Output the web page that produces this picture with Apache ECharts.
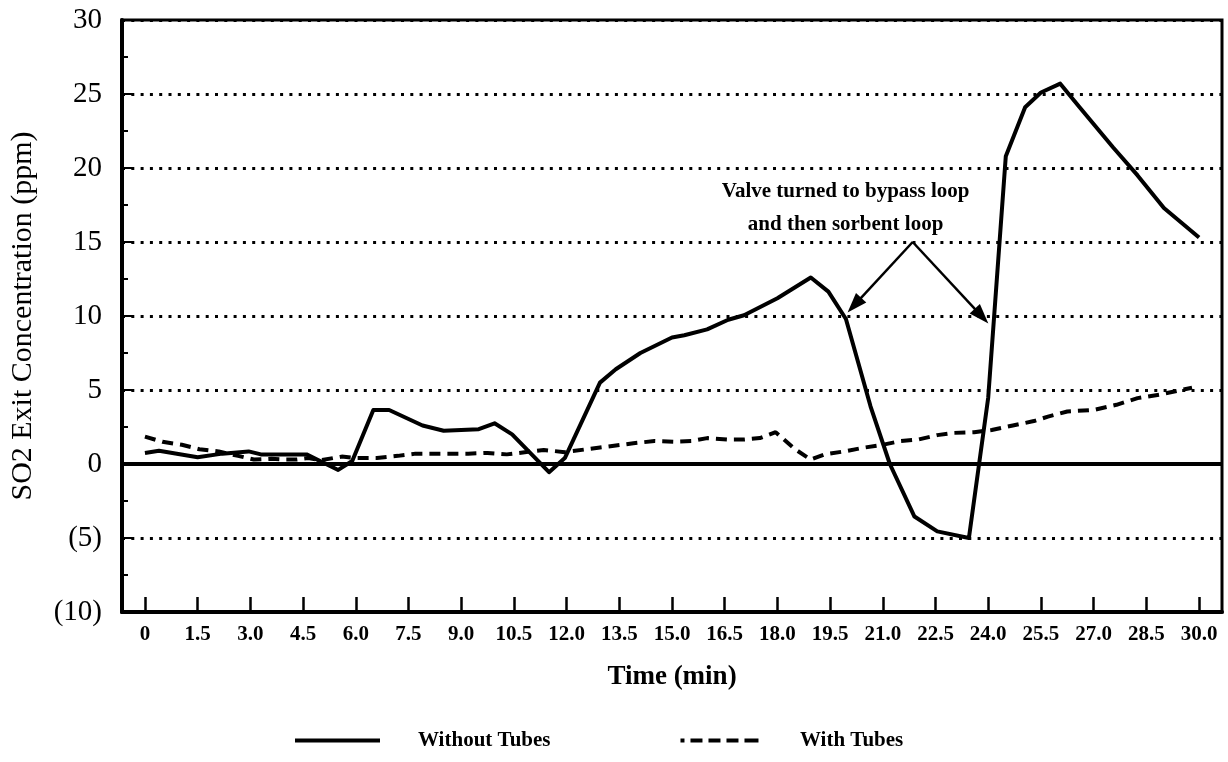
<!DOCTYPE html>
<html>
<head>
<meta charset="utf-8">
<script src="https://cdn.jsdelivr.net/npm/echarts@6/dist/echarts.min.js"></script>
<style>
  html, body { margin: 0; padding: 0; background: #fff; }
  #chart { width: 1228px; height: 762px; }
</style>
</head>
<body>
<div id="chart"></div>
<script>
// SO2 exit concentration (ppm) over time (min)
const timeWithout = [0, 0.4, 1.5, 2.2, 2.95, 3.3, 4.6, 5.5, 5.9, 6.5, 6.95, 7.9, 8.5, 9.5, 9.95,
  10.45, 11.5, 11.95, 12.95, 13.4, 14.1, 15.0, 15.35, 16.0, 16.6, 17.05, 18.0, 18.95, 19.45, 19.95,
  20.65, 21.2, 21.9, 22.55, 23.45, 24.0, 24.5, 25.05, 25.5, 26.05, 26.6, 27.55, 28.25, 29.0, 30.0];
const so2Without = [0.75, 0.9, 0.45, 0.7, 0.85, 0.65, 0.65, -0.4, 0.2, 3.65, 3.65, 2.6, 2.25, 2.35, 2.75,
  2.0, -0.55, 0.4, 5.5, 6.4, 7.5, 8.55, 8.7, 9.1, 9.75, 10.05, 11.2, 12.6, 11.65, 9.8,
  3.9, 0.0, -3.55, -4.55, -5.0, 4.5, 20.8, 24.1, 25.1, 25.7, 24.1, 21.4, 19.5, 17.3, 15.3];

const timeWith = [0, 0.5, 1.05, 1.55, 2.1, 2.65, 3.1, 3.6, 4.0, 4.3, 4.65, 5.0, 5.6, 6.0, 6.6,
  7.2, 7.7, 8.25, 9.2, 9.75, 10.3, 11.35, 11.95, 12.9, 13.9, 14.5, 15.05, 15.55, 16.0, 16.6,
  17.05, 17.5, 17.95, 18.5, 18.95, 19.35, 19.9, 20.45, 21.0, 21.5, 22.0, 22.55, 23.0, 23.6, 24.1,
  24.7, 25.3, 25.7, 26.25, 27.0, 27.65, 28.25, 28.9, 29.4, 29.8];
const so2With = [1.85, 1.5, 1.3, 1.0, 0.85, 0.55, 0.3, 0.35, 0.3, 0.3, 0.4, 0.25, 0.5, 0.4, 0.4,
  0.55, 0.7, 0.7, 0.7, 0.75, 0.65, 0.95, 0.8, 1.1, 1.4, 1.55, 1.5, 1.55, 1.75, 1.65,
  1.65, 1.75, 2.15, 1.0, 0.3, 0.65, 0.85, 1.1, 1.3, 1.55, 1.65, 1.95, 2.1, 2.15, 2.3,
  2.6, 2.9, 3.2, 3.55, 3.65, 4.0, 4.45, 4.7, 4.95, 5.15];

const xTickValues = [0, 1.5, 3, 4.5, 6, 7.5, 9, 10.5, 12, 13.5, 15, 16.5, 18, 19.5, 21, 22.5, 24, 25.5, 27, 28.5, 30];
const xTickLabels = ['0', '1.5', '3.0', '4.5', '6.0', '7.5', '9.0', '10.5', '12.0', '13.5', '15.0',
  '16.5', '18.0', '19.5', '21.0', '22.5', '24.0', '25.5', '27.0', '28.5', '30.0'];
const yTickValues = [-10, -5, 0, 5, 10, 15, 20, 25, 30];
const yTickLabels = ['(10)', '(5)', '0', '5', '10', '15', '20', '25', '30'];

const seriesNames = ['Without Tubes', 'With Tubes'];
const axisNames = ['Time (min)', 'SO2 Exit Concentration (ppm)'];

// Callout: text anchor and arrows pointing at the valve switch moments
// (arrow ends sit half a head short of the tip, since the head is centred on the end point)
const calloutText = ['Valve turned to bypass loop', 'and then sorbent loop'];
const calloutAnchor = [19.94, 17.3];
const arrowFrom = [21.85, 15.0];
const arrowTargets = [[20.19, 10.73], [23.81, 9.99]];

const SERIF = '"Liberation Serif", "Times New Roman", Times, serif';

function labelFor(values, labels, v) {
  for (let i = 0; i < values.length; i++) {
    if (Math.abs(values[i] - v) < 1e-6) return labels[i];
  }
  return '';
}

const chart = echarts.init(document.getElementById('chart'), null, { renderer: 'canvas' });

const option = {
  animation: false,
  backgroundColor: '#ffffff',
  grid: {
    left: 120, right: 6, top: 20, bottom: 150,
    show: true, borderColor: '#000', borderWidth: 3, backgroundColor: 'transparent'
  },
  legend: {
    left: 295, top: 730, padding: 0,
    itemWidth: 85, itemHeight: 4, itemGap: 130,
    itemStyle: { borderWidth: 0 },
    textStyle: { fontFamily: SERIF, fontWeight: 'bold', fontSize: 21, color: '#000', padding: [0, 0, 0, 33] },
    data: [
      { name: seriesNames[0], icon: 'rect' },
      { name: seriesNames[1], icon: 'path://M0,0h4v4h-4z M10,0h12v4h-12z M28,0h12v4h-12z M46,0h12v4h-12z M64,0h14v4h-14z' }
    ]
  },
  xAxis: {
    type: 'value',
    min: -0.653, max: 30.653,
    name: axisNames[0],
    nameLocation: 'middle',
    nameGap: 52,
    nameTextStyle: { fontFamily: SERIF, fontWeight: 'bold', fontSize: 27, color: '#000' },
    axisLine: { show: true, onZero: false, lineStyle: { color: '#000', width: 4 } },
    axisTick: { show: true, inside: true, length: 15, customValues: xTickValues, lineStyle: { color: '#000', width: 2.5 } },
    axisLabel: {
      customValues: xTickValues,
      formatter: v => labelFor(xTickValues, xTickLabels, v),
      fontFamily: SERIF, fontWeight: 'bold', fontSize: 21, color: '#000', margin: 12
    },
    splitLine: { show: false }
  },
  yAxis: {
    type: 'value',
    min: -10, max: 30, interval: 5,
    name: axisNames[1],
    nameLocation: 'middle',
    nameGap: 84,
    nameTextStyle: { fontFamily: SERIF, fontSize: 30, color: '#000' },
    axisLine: { show: true, onZero: false, lineStyle: { color: '#000', width: 4 } },
    axisTick: { show: true, inside: true, length: 10, lineStyle: { color: '#000', width: 2 } },
    minorTick: { show: true, splitNumber: 2, length: 6, lineStyle: { color: '#000', width: 2 } },
    axisLabel: {
      formatter: v => labelFor(yTickValues, yTickLabels, v),
      fontFamily: SERIF, fontSize: 29, color: '#000', margin: 20
    },
    splitLine: { show: true, lineStyle: { color: '#000', width: 3, type: [3, 6.3] } }
  },
  series: [
    {
      name: seriesNames[0],
      type: 'line',
      data: timeWithout.map((t, i) => [t, so2Without[i]]),
      symbol: 'none',
      color: '#000',
      lineStyle: { color: '#000', width: 4, type: 'solid', join: 'round' },
      z: 4,
      markLine: {
        silent: true,
        symbol: 'none',
        label: { show: false },
        lineStyle: { color: '#000', width: 4, type: 'solid' },
        data: [{ yAxis: 0 }]
      }
    },
    {
      name: seriesNames[1],
      type: 'line',
      data: timeWith.map((t, i) => [t, so2With[i]]),
      symbol: 'none',
      color: '#000',
      lineStyle: { color: '#000', width: 4, type: [11, 7] },
      z: 3,
      markLine: {
        silent: true,
        symbol: ['none', 'triangle'],
        symbolSize: [14, 20],
        label: { show: false },
        lineStyle: { color: '#000', width: 2.5, type: 'solid' },
        data: arrowTargets.map(p => [{ coord: arrowFrom }, { coord: p }])
      },
      markPoint: {
        silent: true,
        symbol: 'rect',
        symbolSize: 1,
        itemStyle: { color: 'rgba(0,0,0,0)' },
        label: {
          show: true,
          position: 'inside',
          formatter: calloutText.join('\n'),
          fontFamily: SERIF, fontWeight: 'bold', fontSize: 21, lineHeight: 33, color: '#000'
        },
        data: [{ coord: calloutAnchor }]
      }
    }
  ]
};

chart.setOption(option);
</script>
</body>
</html>
